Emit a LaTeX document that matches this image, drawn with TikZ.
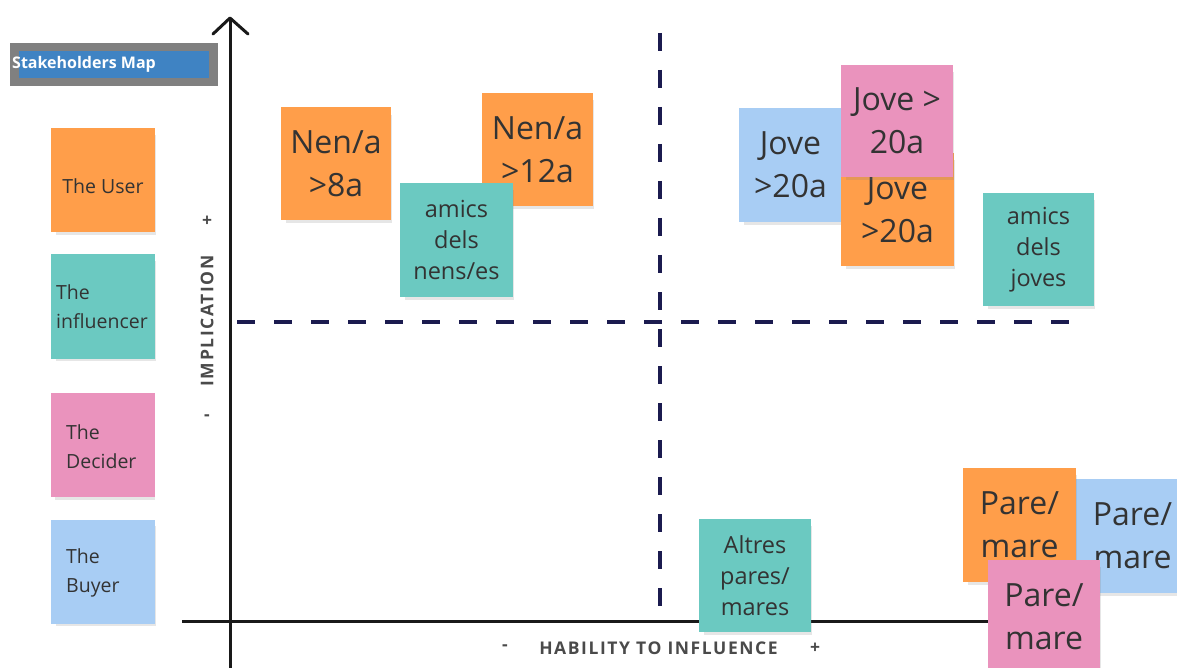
\documentclass[tikz,border=0pt]{standalone}
\usepackage{fontspec}
\setmainfont{Open Sans}
\newfontfamily\axisfont[LetterSpace=9]{Open Sans Bold}
\usetikzlibrary{shadows}
\definecolor{stOrange}{HTML}{FF9E4A}
\definecolor{stTeal}{HTML}{6BC9C1}
\definecolor{stPink}{HTML}{EA93BD}
\definecolor{stBlue}{HTML}{A8CDF4}
\definecolor{navy}{HTML}{1B1B4F}
\definecolor{txtgray}{HTML}{333333}
\definecolor{axlbl}{HTML}{4A4A4A}
\definecolor{titlegray}{HTML}{808080}
\definecolor{titleblue}{HTML}{3F83C3}
\begin{document}
\begin{tikzpicture}[x=1pt,y=-1pt,
  sticky/.style={draw=none, inner sep=0pt, text=txtgray, align=center,
    drop shadow={shadow xshift=3pt, shadow yshift=-5pt, opacity=0.2, shadow scale=0.96}},
  legendnote/.style={sticky, minimum width=104pt, minimum height=104pt},
  bignote/.style={sticky, minimum width=112pt, minimum height=113pt,
    font=\fontsize{32}{43}\selectfont},
  smallnote/.style={sticky, minimum width=112pt, minimum height=113pt,
    font=\fontsize{23.5}{31}\selectfont},
  legendtext/.style={anchor=west, align=left, text=txtgray, inner sep=0pt,
    font=\fontsize{19.5}{29}\selectfont},
  axisline/.style={line width=3pt, draw=black!90},
  quadline/.style={line width=4pt, draw=navy, dash pattern=on 18pt off 19pt},
  axislabel/.style={text=axlbl, inner sep=0pt, font=\fontsize{17.5}{20}\axisfont}
]
\useasboundingbox (0,0) rectangle (1177,668);

% title
\node[fill=titlegray, minimum width=208pt, minimum height=43pt, inner sep=0pt] (titlebox) at (114,64.5) {};
\node[fill=titleblue, minimum width=190pt, minimum height=27pt, inner sep=0pt] (titleblue) at (114,64.5) {};
\node[anchor=west, inner sep=0pt, text=white, font=\fontsize{16}{19}\bfseries] (title) at (12,64.5) {Stakeholders Map};

% axes
\coordinate (ytop) at (230,18);
\coordinate (ybot) at (230,668);
\coordinate (xleft) at (182,621);
\coordinate (xright) at (1050,621);
\coordinate (arrL) at (213,34);
\coordinate (arrR) at (248,34);
\draw[axisline] (ybot) -- (ytop);
\draw[axisline, line cap=round, line join=round] (arrL) -- (ytop) -- (arrR);
\draw[axisline] (xleft) -- (xright);

% quadrant lines
\coordinate (hq1) at (237,322);
\coordinate (hq2) at (1075,322);
\coordinate (vq1) at (660,33);
\coordinate (vq2) at (660,613);
\draw[quadline] (hq1) -- (hq2);
\draw[quadline] (vq1) -- (vq2);

% axis labels
\node[axislabel] (yplus) at (207,221) {+};
\node[axislabel, rotate=90] (ylab) at (207,321) {IMPLICATION};
\node[axislabel] (yminus) at (207,418) {-};
\node[axislabel] (xminus) at (505,648) {-};
\node[axislabel] (xlab) at (658.5,648) {HABILITY TO INFLUENCE};
\node[axislabel] (xplus) at (815,648) {+};

% legend
\node[legendnote, fill=stOrange] (user) at (103,180) {};
\node[legendtext, anchor=center] (usert) at (user.center) [yshift=-6pt] {The User};
\node[legendnote, fill=stTeal] (infl) at (103,306.5) {};
\node[legendtext] (inflt) at (56,306.5) {The\\influencer};
\node[legendnote, fill=stPink] (decider) at (102.5,445) {};
\node[legendtext] (decidert) at (66,446.5) {The\\Decider};
\node[legendnote, fill=stBlue] (buyer) at (103,571.5) {};
\node[legendtext] (buyert) at (66,572.5) {The\\Buyer};

% top-left quadrant
\node[bignote, fill=stOrange, minimum width=110pt] (nen8) at (336,164) {Nen/a\\>8a};
\node[bignote, fill=stOrange, minimum width=111pt] (nen12) at (537.5,149.5) {Nen/a\\>12a};
\node[smallnote, fill=stTeal, minimum width=113pt, minimum height=114pt] (amicsn) at (456.5,240) {amics\\dels\\nens/es};

% top-right quadrant
\node[bignote, fill=stBlue, minimum width=103pt, minimum height=114pt] (jove1) at (790.5,165) {Jove\\>20a};
\node[bignote, fill=stOrange, minimum width=113pt] (jove2) at (897.5,209.5) {Jove\\>20a};
\node[bignote, fill=stPink, minimum height=112pt] (jove3) at (897,121) {Jove >\\20a};
\node[smallnote, fill=stTeal, minimum width=111pt] (amicsj) at (1038.5,249.5) {amics\\dels\\joves};

% bottom-right quadrant
\node[smallnote, fill=stTeal] (altres) at (755,575.5) {Altres\\pares/\\mares};
\node[bignote, fill=stBlue, minimum width=113pt, minimum height=114pt] (pare1) at (1132.5,536) {Pare/\\mare};
\node[bignote, fill=stOrange, minimum width=113pt, minimum height=114pt] (pare2) at (1019.5,525) {Pare/\\mare};
\node[bignote, fill=stPink] (pare3) at (1044,616.5) {Pare/\\mare};
\end{tikzpicture}
\end{document}
